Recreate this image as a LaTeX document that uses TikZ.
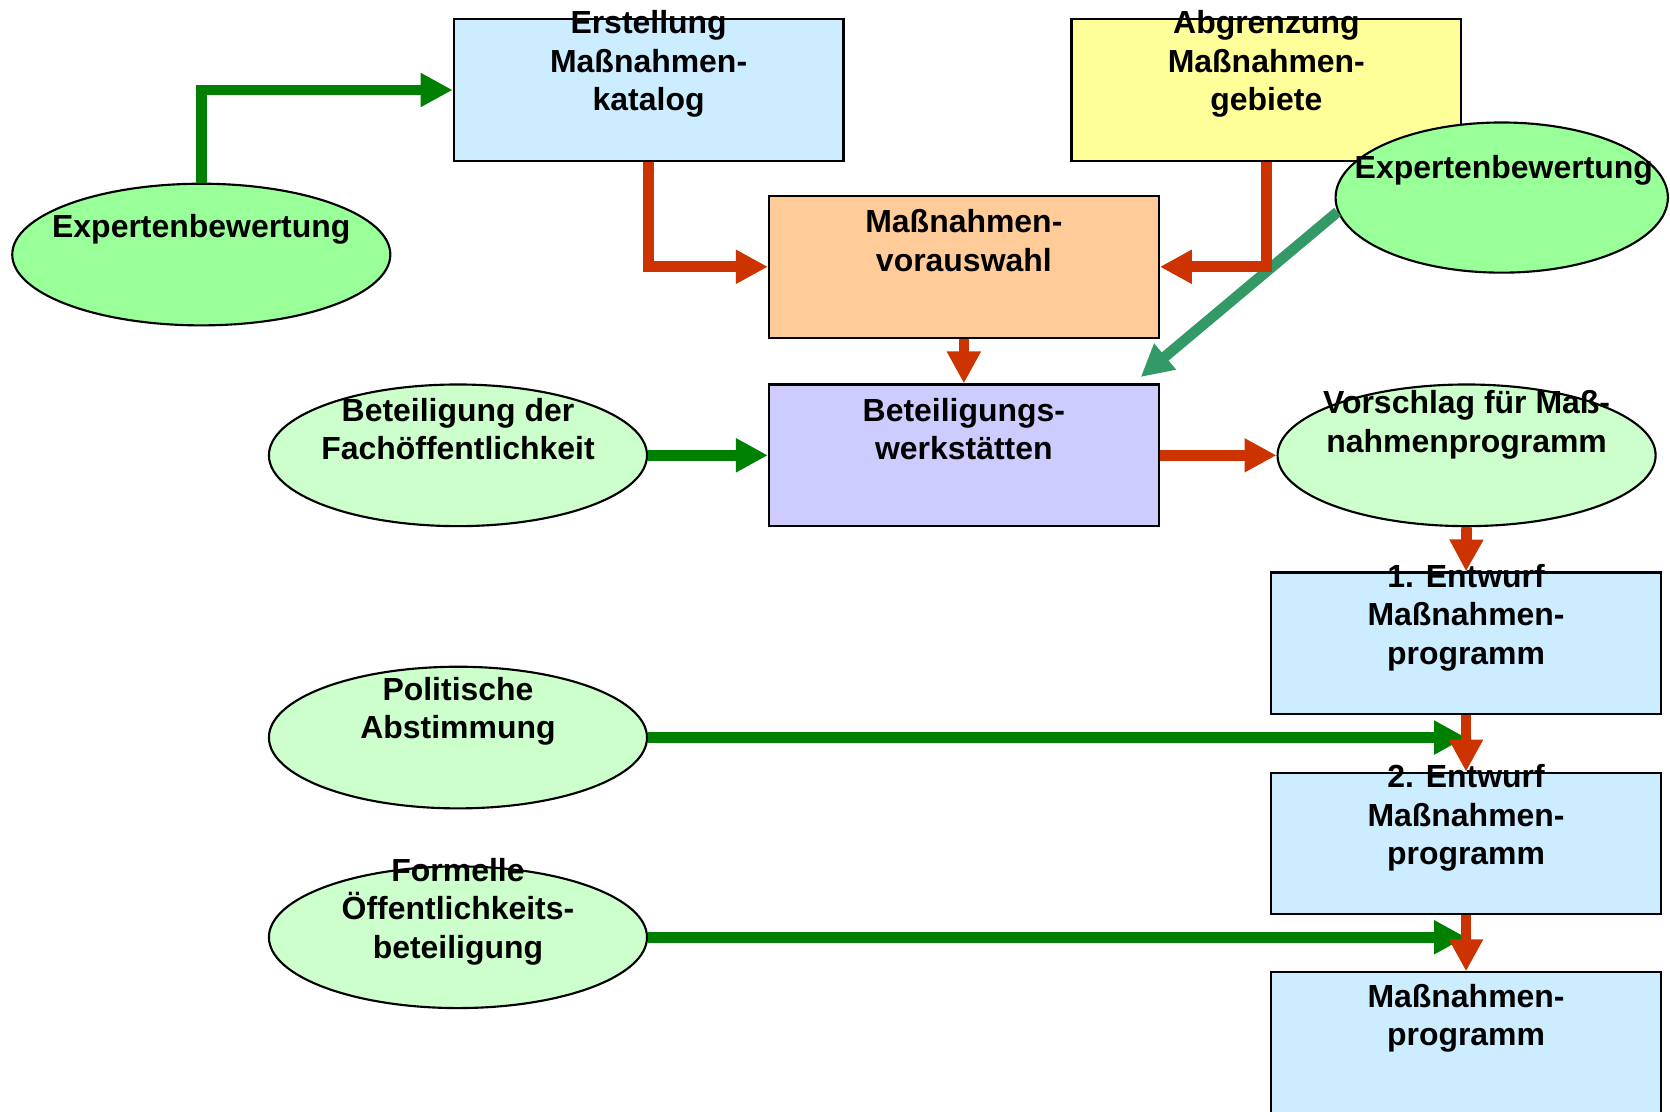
\documentclass[tikz,border=0pt]{standalone}
\usepackage{fontspec}
\setmainfont{Liberation Sans}
\usetikzlibrary{shapes.geometric,arrows.meta}

\definecolor{hellblau}{HTML}{CCECFF}
\definecolor{hellgelb}{HTML}{FFFF99}
\definecolor{apricot}{HTML}{FFCC99}
\definecolor{lila}{HTML}{CCCCFF}
\definecolor{gruen}{HTML}{99FF99}
\definecolor{hellgruen}{HTML}{CCFFCC}
\definecolor{dunkelgruen}{HTML}{008000}
\definecolor{blaugruen}{HTML}{339966}
\definecolor{rot}{HTML}{CC3300}

\tikzset{
  kasten/.style={draw=black, line width=1pt, rectangle, minimum width=183pt, minimum height=66.5pt, inner sep=0pt},
  oval/.style={draw=black, line width=1pt, ellipse, minimum width=177.5pt, minimum height=66.5pt, inner sep=0pt},
  txt/.style={font=\bfseries\fontsize{15}{18}\selectfont, align=center, inner sep=0pt, yshift=-1.5pt},
  pfeil/.style={line width=5pt, -{Triangle[length=15pt,width=15pt]}},
}

\begin{document}
\begin{tikzpicture}[x=0.5pt,y=-0.5pt]
\useasboundingbox (0,0) rectangle (1568,1044);

% Kaesten
\draw (609,84.5) node[kasten,fill=hellblau] (katalog) {};
\draw (609,57) node[txt] (katalogtxt) {Erstellung\\Maßnahmen-\\katalog};
\draw (1189,84.5) node[kasten,fill=hellgelb] (gebiete) {};
\draw (1189,57) node[txt] (gebietetxt) {Abgrenzung\\Maßnahmen-\\gebiete};
\draw (905,250.5) node[kasten,fill=apricot] (vorauswahl) {};
\draw (905,223) node[txt] (vorauswahltxt) {Maßnahmen-\\vorauswahl};
\draw (905,427.5) node[kasten,fill=lila] (werkstatt) {};
\draw (905,400) node[txt] (werkstatttxt) {Beteiligungs-\\werkstätten};
\draw (1376.5,604) node[kasten,fill=hellblau] (entwurfA) {};
\draw (1376.5,577) node[txt] (entwurfAtxt) {1. Entwurf\\Maßnahmen-\\programm};
\draw (1376.5,792) node[kasten,fill=hellblau] (entwurfB) {};
\draw (1376.5,765) node[txt] (entwurfBtxt) {2. Entwurf\\Maßnahmen-\\programm};
\draw (1376.5,979.5) node[kasten,fill=hellblau] (programm) {};
\draw (1376.5,953) node[txt] (programmtxt) {Maßnahmen-\\programm};

% Ellipsen
\draw (189,239) node[oval,fill=gruen] (expertenA) {};
\draw (189,212) node[txt] (expertenAtxt) {Expertenbewertung};
\draw (1410,185.5) node[oval,fill=gruen,minimum width=156pt,minimum height=70.5pt] (expertenB) {};
\draw (1412,157) node[txt] (expertenBtxt) {Expertenbewertung};
\draw (430,427.5) node[oval,fill=hellgruen] (fachoeff) {};
\draw (430,400) node[txt] (fachoefftxt) {Beteiligung der\\Fachöffentlichkeit};
\draw (1377,427.5) node[oval,fill=hellgruen] (vorschlag) {};
\draw (1377,396) node[txt] (vorschlagtxt) {Vorschlag für Maß-\\nahmenprogramm};
\draw (430,692.5) node[oval,fill=hellgruen] (politik) {};
\draw (430,665) node[txt] (politiktxt) {Politische\\Abstimmung};
\draw (430,880) node[oval,fill=hellgruen] (formell) {};
\draw (430,853) node[txt] (formelltxt) {Formelle\\Öffentlichkeits-\\beteiligung};

% gruene Pfeile
\draw[pfeil,dunkelgruen] (expertenA.north) |- (katalog.west);
\draw[pfeil,dunkelgruen] (fachoeff.east) -- (werkstatt.west);
\draw[pfeil,dunkelgruen] (politik.east) -- (politik.east -| entwurfB.north);
\draw[pfeil,dunkelgruen] (formell.east) -- (formell.east -| programm.north);
\draw[pfeil,blaugruen] (expertenB.185) -- ([xshift=-9pt,yshift=3pt]werkstatt.north east);

% rote Pfeile
\draw[pfeil,rot] (katalog.south) |- (vorauswahl.west);
\draw[pfeil,rot] (gebiete.south) |- (vorauswahl.east);
\draw[pfeil,rot] (vorauswahl.south) -- (werkstatt.north);
\draw[pfeil,rot] (werkstatt.east) -- (vorschlag.west);
\draw[pfeil,rot] (vorschlag.south) -- (entwurfA.north);
\draw[pfeil,rot] (entwurfA.south) -- (entwurfB.north);
\draw[pfeil,rot] (entwurfB.south) -- (programm.north);
\end{tikzpicture}
\end{document}
